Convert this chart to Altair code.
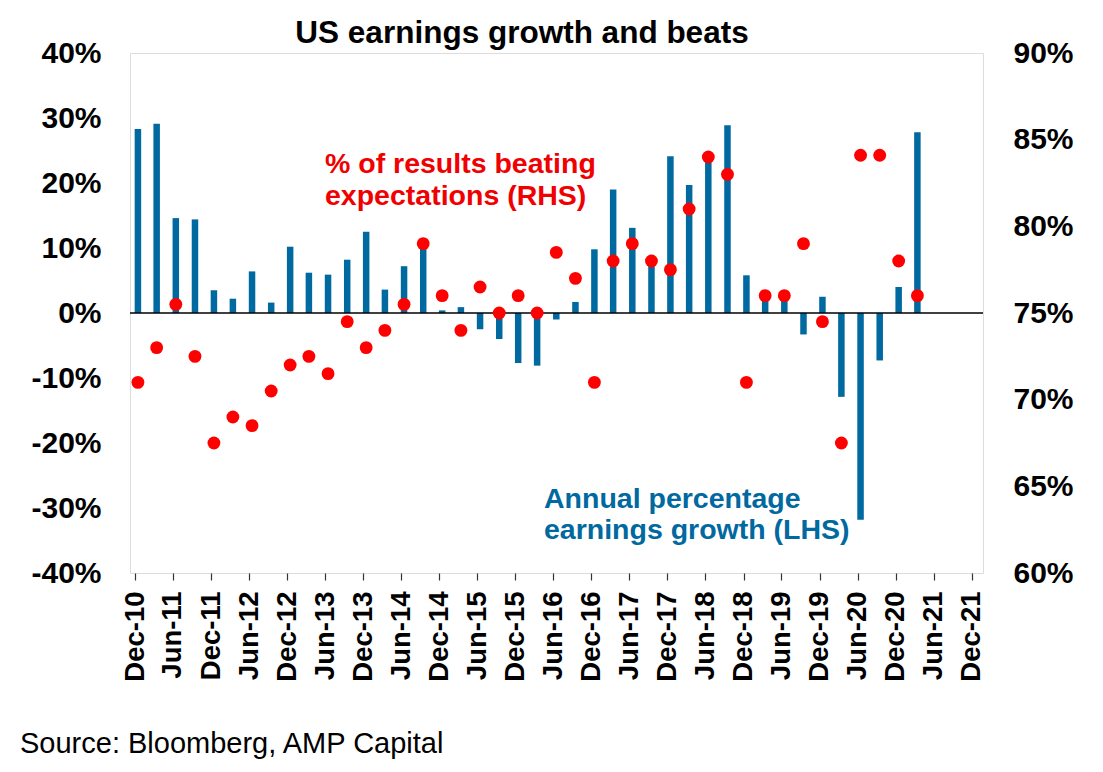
import altair as alt
import pandas as pd

# ---------------- data ----------------
quarters = ["2010-12", "2011-03", "2011-06", "2011-09", "2011-12", "2012-03", "2012-06", "2012-09",
            "2012-12", "2013-03", "2013-06", "2013-09", "2013-12", "2014-03", "2014-06", "2014-09",
            "2014-12", "2015-03", "2015-06", "2015-09", "2015-12", "2016-03", "2016-06", "2016-09",
            "2016-12", "2017-03", "2017-06", "2017-09", "2017-12", "2018-03", "2018-06", "2018-09",
            "2018-12", "2019-03", "2019-06", "2019-09", "2019-12", "2020-03", "2020-06", "2020-09",
            "2020-12", "2021-03"]

# Annual percentage earnings growth (LHS, %)
growth = [28.3, 29.1, 14.6, 14.4, 3.5, 2.2, 6.4, 1.6,
          10.2, 6.2, 5.9, 8.2, 12.5, 3.6, 7.2, 10.4,
          0.4, 0.9, -2.5, -4.0, -7.7, -8.1, -1.0, 1.7,
          9.8, 19.0, 13.1, 7.9, 24.1, 19.7, 24.0, 28.9,
          5.8, 2.5, 2.2, -3.3, 2.5, -12.9, -31.8, -7.3,
          4.0, 27.8]

# % of results beating expectations (RHS, %)
beats = [71.0, 73.0, 75.5, 72.5, 67.5, 69.0, 68.5, 70.5,
         72.0, 72.5, 71.5, 74.5, 73.0, 74.0, 75.5, 79.0,
         76.0, 74.0, 76.5, 75.0, 76.0, 75.0, 78.5, 77.0,
         71.0, 78.0, 79.0, 78.0, 77.5, 81.0, 84.0, 83.0,
         71.0, 76.0, 76.0, 79.0, 74.5, 67.5, 84.1, 84.1,
         78.0, 76.0]

x_tick_labels = ["Dec-10", "Jun-11", "Dec-11", "Jun-12", "Dec-12", "Jun-13", "Dec-13", "Jun-14",
                 "Dec-14", "Jun-15", "Dec-15", "Jun-16", "Dec-16", "Jun-17", "Dec-17", "Jun-18",
                 "Dec-18", "Jun-19", "Dec-19", "Jun-20", "Dec-20", "Jun-21", "Dec-21"]
lhs_ticks = [-40, -30, -20, -10, 0, 10, 20, 30, 40]
rhs_ticks = [60, 65, 70, 75, 80, 85, 90]

title_text = "US earnings growth and beats"
rhs_note = "% of results beating\nexpectations (RHS)"
lhs_note = "Annual percentage\nearnings growth (LHS)"
source_text = "Source: Bloomberg, AMP Capital"

# ---------------- build ----------------
MONTHS = {"Jan": 1, "Feb": 2, "Mar": 3, "Apr": 4, "May": 5, "Jun": 6,
          "Jul": 7, "Aug": 8, "Sep": 9, "Oct": 10, "Nov": 11, "Dec": 12}
tick_values = [alt.DateTime(year=2000 + int(t[4:]), month=MONTHS[t[:3]], date=1) for t in x_tick_labels]

df = pd.DataFrame({
    "date": [q + "-15T00:00:00" for q in quarters],
    "growth": growth,
    "beats": beats,
})

FONT = "Liberation Sans"
BLUE = "#0069A0"
RED = "#FF0000"

x_enc = alt.X(
    "date:T",
    title=None,
    scale=alt.Scale(domain=[alt.DateTime(year=2010, month=12, date=1),
                            alt.DateTime(year=2021, month=12, date=31)]),
    axis=alt.Axis(values=tick_values, format="%b-%y", labelAngle=270,
                  labelFontSize=27.5, labelFontWeight="bold", labelPadding=11,
                  tickSize=7, tickColor="#333", tickWidth=1.2, domain=False, grid=False,
                  labelOverlap=False, labelFont=FONT, labelColor="black"),
)

lhs_axis = alt.Axis(orient="left", values=lhs_ticks, labelExpr="datum.value + '%'",
                    labelFontSize=30, labelFontWeight="bold", labelPadding=29,
                    ticks=False, domain=False, grid=False, labelFont=FONT,
                    labelColor="black")
lhs_scale = alt.Scale(domain=[-40, 40], nice=False, zero=False)

base = alt.Chart(df)

bars = base.mark_bar(size=6.5, color=BLUE).encode(
    x=x_enc,
    y=alt.Y("growth:Q", title=None, scale=lhs_scale, axis=lhs_axis),
)

zero_line = alt.Chart(pd.DataFrame({"growth": [0]})).mark_rule(color="black", strokeWidth=1.5).encode(
    y=alt.Y("growth:Q", title=None, scale=lhs_scale, axis=lhs_axis),
)

points = base.mark_circle(size=165, color=RED, opacity=1).encode(
    x=x_enc,
    y=alt.Y("beats:Q", title=None,
            scale=alt.Scale(domain=[60, 90], nice=False, zero=False),
            axis=alt.Axis(orient="right", values=rhs_ticks, labelExpr="datum.value + '%'",
                          labelFontSize=30, labelFontWeight="bold", labelPadding=30,
                          ticks=False, domain=False, grid=False, labelFont=FONT,
                          labelColor="black")),
)

def text_layer(txt, x, y, size, color, weight="bold", align="left", line_height=32):
    return alt.Chart(pd.DataFrame({"t": [txt]})).mark_text(
        align=align, baseline="alphabetic", font=FONT, fontSize=size, fontWeight=weight,
        color=color, lineBreak="\n", lineHeight=line_height,
    ).encode(x=alt.value(x), y=alt.value(y), text="t:N")

title = text_layer(title_text, 392, -10, 31.5, "black", align="center")
note_rhs = text_layer(rhs_note, 195, 120, 28.5, "#F00000", line_height=32)
note_lhs = text_layer(lhs_note, 414, 455, 28.5, BLUE, line_height=31)
source = text_layer(source_text, -110, 700, 29, "black", weight="normal")

chart = alt.layer(
    alt.layer(bars, zero_line),
    points,
    note_rhs, note_lhs, title, source,
).resolve_scale(y="independent").properties(
    width=853, height=520,
    autosize=alt.AutoSizeParams(type="none"),
    padding={"left": 122, "top": 45, "right": 112, "bottom": 190},
).configure_view(stroke="#444", strokeWidth=1.2).configure(background="white")

chart.save("out.html", embed_options={"renderer": "svg", "actions": False})
